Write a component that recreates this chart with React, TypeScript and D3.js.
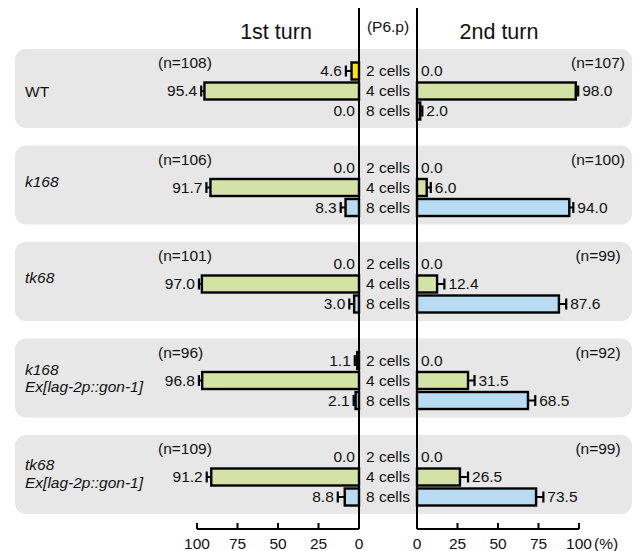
import React from "react";
import * as d3 from "d3";

const groups = ["WT", "k168", "tk68", "k168|Ex[lag-2p::gon-1]", "tk68|Ex[lag-2p::gon-1]"];
const italicGroup = [false, true, true, true, true];
const nFirst = [108, 106, 101, 96, 109];
const nSecond = [107, 100, 99, 92, 99];
const cellClasses = ["2 cells", "4 cells", "8 cells"];
const cellColors = ["#ffe400", "#d5e2a6", "#b9dcf3"];

const first2 = [4.6, 0.0, 0.0, 1.1, 0.0];
const first4 = [95.4, 91.7, 97.0, 96.8, 91.2];
const first8 = [0.0, 8.3, 3.0, 2.1, 8.8];
const second2 = [0.0, 0.0, 0.0, 0.0, 0.0];
const second4 = [98.0, 6.0, 12.4, 31.5, 26.5];
const second8 = [2.0, 94.0, 87.6, 68.5, 73.5];

const firstErr2 = [3.5, 0, 0, 1.5, 0];
const firstErr4 = [2.0, 2.5, 1.8, 2.0, 2.8];
const firstErr8 = [0, 3.0, 3.0, 1.2, 4.3];
const secondErr2 = [0, 0, 0, 0, 0];
const secondErr4 = [1.5, 2.5, 4.5, 4.0, 5.0];
const secondErr8 = [1.3, 2.5, 4.5, 4.5, 4.5];

const axisTicks = [0, 25, 50, 75, 100];

const FONT = "'Liberation Sans', Arial, Helvetica, sans-serif";
const FS = 15.5;
const labelOffset = [43, 36, 36, 31, 30];

export default function App() {
  const W = 642, H = 551;
  const xL = d3.scaleLinear().domain([0, 100]).range([359, 197]);
  const xR = d3.scaleLinear().domain([0, 100]).range([417, 579]);
  const panelTop = d3.scaleLinear().domain([0, groups.length - 1]).range([49, 435]);
  const panelH = 79;
  const axisY = 529;

  const firstVals = [first2, first4, first8];
  const secondVals = [second2, second4, second8];
  const firstErrs = [firstErr2, firstErr4, firstErr8];
  const secondErrs = [secondErr2, secondErr4, secondErr8];

  const panels = groups.map((g, gi) => {
    const top = panelTop(gi);
    const band = d3.scaleBand<string>().domain(cellClasses).range([top + 12, top + 72]);
    const bh = 17;
    const lines = g.split("|");
    return (
      <g key={gi}>
        <rect x={15} y={top} width={617} height={panelH} rx={11} fill="#e7e7e7" />
        {lines.map((l, li) => (
          <text key={li} x={25} y={top + labelOffset[gi] + li * 17.5} dy="0.35em" fontSize={FS} fontStyle={italicGroup[gi] ? "italic" : "normal"}>{l}</text>
        ))}
        <text x={158} y={top + 14} dy="0.35em" fontSize={FS}>{`(n=${nFirst[gi]})`}</text>
        <text x={598} y={top + 14} dy="0.35em" fontSize={FS} textAnchor="middle">{`(n=${nSecond[gi]})`}</text>
        {cellClasses.map((c, ci) => {
          const cy = (band(c) as number) + band.bandwidth() / 2;
          const vL = firstVals[ci][gi];
          const eL = firstErrs[ci][gi];
          const vR = secondVals[ci][gi];
          const eR = secondErrs[ci][gi];
          const capL = xL(vL + eL);
          const capR = xR(vR + eR);
          return (
            <g key={ci}>
              <text x={388} y={cy} dy="0.35em" fontSize={FS} textAnchor="middle">{c}</text>
              {vL > 0 && (
                <g>
                  <line x1={xL(vL)} x2={capL} y1={cy} y2={cy} stroke="#000" strokeWidth={2} />
                  <line x1={capL} x2={capL} y1={cy - 5.5} y2={cy + 5.5} stroke="#000" strokeWidth={2.2} />
                  <rect x={xL(vL)} y={cy - bh / 2} width={xL(0) - xL(vL)} height={bh} fill={cellColors[ci]} stroke="#000" strokeWidth={2.4} />
                </g>
              )}
              {vR > 0 && (
                <g>
                  <line x1={xR(vR)} x2={capR} y1={cy} y2={cy} stroke="#000" strokeWidth={2} />
                  <line x1={capR} x2={capR} y1={cy - 5.5} y2={cy + 5.5} stroke="#000" strokeWidth={2.2} />
                  <rect x={xR(0)} y={cy - bh / 2} width={xR(vR) - xR(0)} height={bh} fill={cellColors[ci]} stroke="#000" strokeWidth={2.4} />
                </g>
              )}
              <text x={(vL > 0 ? capL : xL(0)) - 4} y={cy} dy="0.35em" fontSize={FS} textAnchor="end">{vL.toFixed(1)}</text>
              <text x={(vR > 0 ? capR : xR(0)) + 4} y={cy} dy="0.35em" fontSize={FS}>{vR.toFixed(1)}</text>
            </g>
          );
        })}
      </g>
    );
  });

  return (
    <div style={{ position: "absolute", left: 0, top: 0 }}>
      <svg width={W} height={H} style={{ display: "block", fontFamily: FONT }} fill="#111">
        <rect width={W} height={H} fill="#fff" />
        {panels}
        <line x1={xL(0)} x2={xL(0)} y1={8} y2={axisY} stroke="#000" strokeWidth={2} />
        <line x1={xR(0)} x2={xR(0)} y1={8} y2={axisY} stroke="#000" strokeWidth={2} />
        <text x={276} y={31} dy="0.35em" fontSize={21.5} textAnchor="middle">1st turn</text>
        <text x={499} y={31} dy="0.35em" fontSize={21.5} textAnchor="middle">2nd turn</text>
        <text x={388} y={27} dy="0.35em" fontSize={FS} textAnchor="middle">(P6.p)</text>
        <line x1={xL(100)} x2={xL(0)} y1={axisY} y2={axisY} stroke="#000" strokeWidth={2} />
        <line x1={xR(0)} x2={xR(100)} y1={axisY} y2={axisY} stroke="#000" strokeWidth={2} />
        {axisTicks.map((t) => (
          <g key={t}>
            <line x1={xL(t)} x2={xL(t)} y1={axisY} y2={axisY - 6} stroke="#000" strokeWidth={2} />
            <line x1={xR(t)} x2={xR(t)} y1={axisY} y2={axisY - 6} stroke="#000" strokeWidth={2} />
            <text x={xL(t)} y={axisY + 15} dy="0.35em" fontSize={FS} textAnchor="middle">{t}</text>
            <text x={xR(t)} y={axisY + 15} dy="0.35em" fontSize={FS} textAnchor="middle">{t}</text>
          </g>
        ))}
        <text x={xR(100) + 15} y={axisY + 15} dy="0.35em" fontSize={FS}>(%)</text>
      </svg>
    </div>
  );
}
